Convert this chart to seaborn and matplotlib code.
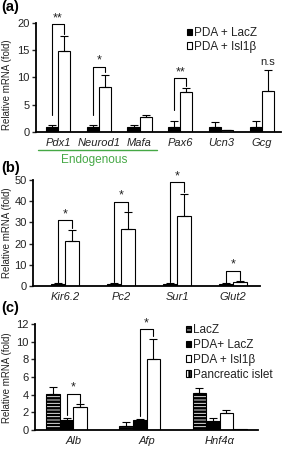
import numpy as np
import pandas as pd
import matplotlib
matplotlib.use("Agg")
import matplotlib.pyplot as plt
import matplotlib.transforms as mtransforms
from matplotlib.patches import Patch
import seaborn as sns

# ---- panel (a): endogenous genes
genes_a = ["Pdx1", "Neurod1", "Mafa", "Pax6", "Ucn3", "Gcg"]
pda_lacz_a = [1.0, 1.0, 1.0, 1.0, 1.0, 1.0]
pda_lacz_a_err = [0.3, 0.3, 0.3, 1.0, 0.8, 1.0]
pda_isl_a = [14.8, 8.2, 2.8, 7.4, 0.3, 7.6]
pda_isl_a_err = [2.9, 2.2, 0.4, 0.6, 0.1, 3.8]
# (gene, left leg bottom, top, right leg bottom, label)
brackets_a = [(0, 3.1, 19.8, 17.9, "**"), (1, 3.1, 12.0, 11.0, "*"), (3, 4.0, 9.9, 8.5, "**")]
ns_a = (5, 12.0, "n.s")

# ---- panel (b)
genes_b = ["Kir6.2", "Pc2", "Sur1", "Glut2"]
pda_lacz_b = [0.8, 0.8, 0.8, 0.8]
pda_lacz_b_err = [0.5, 0.8, 0.8, 0.4]
pda_isl_b = [21.0, 27.0, 33.0, 1.8]
pda_isl_b_err = [5.4, 7.8, 10.3, 0.4]
brackets_b = [(0, 1.5, 31.0, 27.5, "*"), (1, 1.8, 39.8, 35.5, "*"),
              (2, 1.8, 49.0, 44.5, "*"), (3, 1.5, 7.2, 3.0, "*")]

# ---- panel (c)
genes_c = ["Alb", "Afp", "Hnf4α"]
lacz_c = [4.05, 0.5, 4.2]
lacz_c_err = [0.85, 0.45, 0.6]
pda_lacz_c = [1.15, 1.15, 1.0]
pda_lacz_c_err = [0.2, 0.05, 0.3]
pda_isl_c = [2.6, 8.0, 1.95]
pda_isl_c_err = [0.3, 2.3, 0.3]
islet_c = [0.05, 0.05, 0.15]
islet_c_err = [0.0, 0.0, 0.0]
brackets_c = [(0, 1.7, 4.1, 3.05, "*"), (1, 1.6, 11.4, 10.6, "*")]

sns.set_style("ticks")
plt.rcParams["font.family"] = ["Liberation Sans", "DejaVu Sans"]
plt.rcParams["hatch.linewidth"] = 1.8
TXT = "#222222"


def make_panel(ax, genes, series, names, palette, hatches, width, xlim, ylim, yticks):
    rows = []
    for nm, vals in zip(names, series):
        for g, v in zip(genes, vals):
            rows.append({"gene": g, "group": nm, "value": v})
    df = pd.DataFrame(rows)
    sns.barplot(data=df, x="gene", y="value", hue="group", hue_order=names,
                palette=palette, saturation=1, errorbar=None, width=width,
                edgecolor="black", linewidth=0.8, legend=False, ax=ax)
    for cont, h in zip(ax.containers, hatches):
        for p in cont.patches:
            if h:
                p.set_hatch(h)
    ax.set_xlim(*xlim)
    ax.set_ylim(*ylim)
    ax.set_yticks(yticks)
    ax.set_xlabel("")
    ax.set_ylabel("Relative mRNA (fold)", fontsize=7, color=TXT)
    sns.despine(ax=ax)
    for s in ["left", "bottom"]:
        ax.spines[s].set_linewidth(1.3)
        ax.spines[s].set_color("black")
    ax.tick_params(axis="y", length=3, width=1, pad=1.5, labelsize=8, labelcolor=TXT)
    ax.tick_params(axis="x", length=0, pad=4.5, labelsize=8, labelcolor=TXT)
    plt.setp(ax.get_xticklabels(), fontstyle="italic")


def add_errors(ax, errs):
    for cont, err in zip(ax.containers, errs):
        xs = [p.get_x() + p.get_width() / 2 for p in cont.patches]
        ys = [p.get_height() for p in cont.patches]
        err = np.asarray(err)
        keep = err > 0
        ax.errorbar(np.array(xs)[keep], np.array(ys)[keep],
                    yerr=[np.zeros(keep.sum()), err[keep]], fmt="none",
                    ecolor="black", elinewidth=0.8, capsize=3, capthick=0.8)


def add_brackets(ax, brackets, left_h, right_h, fs=9):
    lc = ax.containers[left_h].patches
    rc = ax.containers[right_h].patches
    for gi, yl, top, yr, lab in brackets:
        x1 = lc[gi].get_x() + lc[gi].get_width() / 2
        x2 = rc[gi].get_x() + rc[gi].get_width() / 2
        ax.plot([x1, x1, x2, x2], [yl, top, top, yr], color="black", lw=0.8, clip_on=False)
        ax.text((x1 + x2) / 2, top, lab, ha="center", va="bottom", fontsize=fs,
                color=TXT, clip_on=False)


fig = plt.figure(figsize=(2.83, 4.54), dpi=100)

# (a)
ax_a = fig.add_axes([0.127, 0.7093, 0.866, 0.240])
names_ab = ["PDA + LacZ", "PDA + Isl1β"]
pal_ab = {"PDA + LacZ": "black", "PDA + Isl1β": "white"}
make_panel(ax_a, genes_a, [pda_lacz_a, pda_isl_a], names_ab, pal_ab, [None, None],
           0.59, (-0.54, 5.47), (0, 20), [0, 5, 10, 15, 20])
add_errors(ax_a, [pda_lacz_a_err, pda_isl_a_err])
add_brackets(ax_a, brackets_a, 0, 1)
p = ax_a.containers[1].patches[ns_a[0]]
ax_a.text(p.get_x() + p.get_width() / 2, ns_a[1], ns_a[2], ha="center", va="bottom",
          fontsize=8, color=TXT)
ax_a.yaxis.set_label_coords(-0.098, 0.43)
ax_a.legend(handles=[Patch(facecolor=pal_ab[n], edgecolor="black", linewidth=0.8, label=n)
                     for n in names_ab],
            loc="upper left", bbox_to_anchor=(0.616, 0.96), frameon=False, fontsize=8.5,
            handlelength=0.45, handleheight=0.45, handletextpad=0.12, labelspacing=0.1,
            borderpad=0, borderaxespad=0, labelcolor=TXT)
trans = mtransforms.blended_transform_factory(ax_a.transData, ax_a.transAxes)
green = "#45a845"
ax_a.plot([-0.49, 2.43], [-0.165, -0.165], color=green, lw=1.0, transform=trans, clip_on=False)
ax_a.text(0.9, -0.26, "Endogenous", color=green, fontsize=8.5, ha="center", va="center",
          transform=trans)

# (b)
ax_b = fig.add_axes([0.1166, 0.370, 0.802, 0.2335])
make_panel(ax_b, genes_b, [pda_lacz_b, pda_isl_b], names_ab, pal_ab, [None, None],
           0.5, (-0.571, 3.48), (0, 50), [0, 10, 20, 30, 40, 50])
add_errors(ax_b, [pda_lacz_b_err, pda_isl_b_err])
add_brackets(ax_b, brackets_b, 0, 1)
ax_b.yaxis.set_label_coords(-0.0925, 0.5)

# (c)
ax_c = fig.add_axes([0.1237, 0.0529, 0.788, 0.2335])
names_c = ["LacZ", "PDA+ LacZ", "PDA + Isl1β", "Pancreatic islet"]
pal_c = {"LacZ": "white", "PDA+ LacZ": "black", "PDA + Isl1β": "white", "Pancreatic islet": "white"}
hatch_c = ["-----", None, None, "||||"]
make_panel(ax_c, genes_c, [lacz_c, pda_lacz_c, pda_isl_c, islet_c], names_c, pal_c, hatch_c,
           0.74, (-0.527, 2.527), (0, 12), [0, 2, 4, 6, 8, 10, 12])
add_errors(ax_c, [lacz_c_err, pda_lacz_c_err, pda_isl_c_err, islet_c_err])
add_brackets(ax_c, brackets_c, 1, 2)
ax_c.yaxis.set_label_coords(-0.105, 0.49)
ax_c.legend(handles=[Patch(facecolor=pal_c[n], edgecolor="black", linewidth=0.8,
                           hatch=h, label=n) for n, h in zip(names_c, hatch_c)],
            loc="upper left", bbox_to_anchor=(0.677, 1.0), frameon=False, fontsize=8.5,
            handlelength=0.45, handleheight=0.45, handletextpad=0.12, labelspacing=0.25,
            borderpad=0, borderaxespad=0, labelcolor=TXT)

for lab, y in [("(a)", 7), ("(b)", 168), ("(c)", 308)]:
    fig.text(0.003, 1 - y / 454, lab, fontsize=10.5, fontweight="bold", va="center",
             ha="left", color="black")

fig.savefig("out.png", dpi=100)
